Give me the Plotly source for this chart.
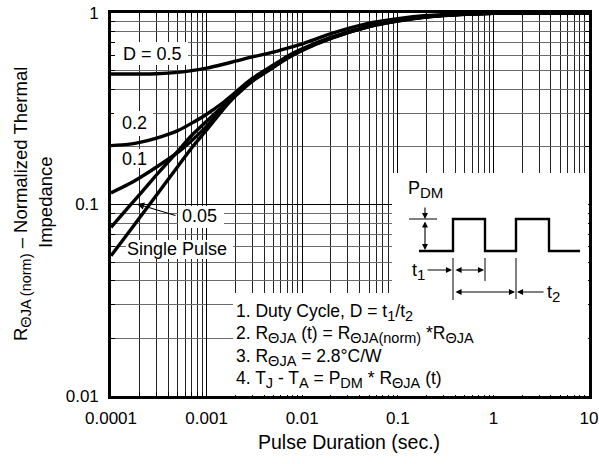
import plotly.graph_objects as go

# ---------------- data ----------------
pulse_t = [1e-4, 1.5e-4, 2e-4, 3e-4, 5e-4, 7e-4, 1e-3, 1.5e-3, 2e-3, 3e-3, 5e-3, 7e-3,
           1e-2, 2e-2, 5e-2, 0.1, 0.2, 0.5, 1, 2, 5, 10]

z_d05 = [0.48, 0.48, 0.48, 0.482, 0.49, 0.50, 0.515, 0.54, 0.56, 0.59, 0.625, 0.655,
         0.69, 0.78, 0.885, 0.935, 0.97, 0.99, 0.998, 1.0, 1.0, 1.0]
z_d02 = [0.203, 0.206, 0.211, 0.222, 0.243, 0.266, 0.296, 0.342, 0.385, 0.455, 0.535, 0.595,
         0.65, 0.745, 0.855, 0.915, 0.957, 0.987, 0.997, 1.0, 1.0, 1.0]
z_d01 = [0.115, 0.127, 0.138, 0.157, 0.187, 0.216, 0.256, 0.32, 0.375, 0.448, 0.528, 0.588,
         0.645, 0.742, 0.852, 0.912, 0.955, 0.986, 0.996, 1.0, 1.0, 1.0]
z_d005 = [0.076, 0.096, 0.113, 0.143, 0.19, 0.23, 0.272, 0.328, 0.373, 0.445, 0.525, 0.585,
          0.642, 0.74, 0.85, 0.91, 0.954, 0.985, 0.996, 1.0, 1.0, 1.0]
z_single = [0.054, 0.0705, 0.0855, 0.112, 0.158, 0.198, 0.245, 0.315, 0.368, 0.44, 0.52, 0.58,
            0.638, 0.737, 0.848, 0.908, 0.953, 0.985, 0.996, 1.0, 1.0, 1.0]

series = [("D = 0.5", z_d05), ("0.2", z_d02), ("0.1", z_d01),
          ("0.05", z_d005), ("Single Pulse", z_single)]

x_major = [1e-4, 1e-3, 1e-2, 1e-1, 1, 10]
x_major_text = ["0.0001", "0.001", "0.01", "0.1", "1", "10"]
y_major = [0.01, 0.1, 1]
y_major_text = ["0.01", "0.1", "1"]

label_text = ["D = 0.5", "0.2", "0.1", "0.05", "Single Pulse"]


def sb(s, size=14.5):
    return f"<sub><span style='font-size:{size}px'>{s}</span></sub>"


notes = ["1. Duty Cycle, D = t" + sb("1") + "/t" + sb("2"),
         "2. R" + sb("ΘJA") + " (t) = R" + sb("ΘJA(norm)") + " *R" + sb("ΘJA"),
         "3. R" + sb("ΘJA") + " = 2.8°C/W",
         "4. T" + sb("J") + " - T" + sb("A") + " = P" + sb("DM") + " * R" + sb("ΘJA") + " (t)"]

# ---------------- layout geometry ----------------
W, H = 599, 464
L, R, T, B = 111, 10, 13, 68
PW, PH = W - L - R, H - T - B
FONT = "Liberation Sans, Arial, sans-serif"


def px(xp):
    return (xp - L) / PW


def py(yp):
    return (T + PH - yp) / PH


x_minor = [m * 10 ** e for e in range(-4, 1) for m in range(2, 10)]
y_minor = [m * 10 ** e for e in range(-2, 0) for m in range(2, 10)]

fig = go.Figure()
for name, vals in series:
    fig.add_trace(go.Scatter(x=pulse_t, y=vals, mode="lines", name=name,
                             line=dict(color="black", width=3.4, shape="spline", smoothing=0.6),
                             showlegend=False, hoverinfo="skip"))

shapes = []


def white_box(x0, y0, x1, y1):
    shapes.append(dict(type="rect", xref="paper", yref="paper",
                       x0=px(x0), x1=px(x1), y0=py(y1), y1=py(y0),
                       fillcolor="white", line=dict(width=0), layer="above"))


# boxes that hide the grid
white_box(115, 42, 188, 65)      # D = 0.5
white_box(114, 111, 153, 136)    # 0.2
white_box(114, 149, 150, 168)    # 0.1
white_box(178, 206, 224, 228)    # 0.05
white_box(126, 240, 233, 259)    # Single Pulse
white_box(392, 173, 588, 395)    # waveform inset
white_box(233, 293, 392, 395)    # notes


def seg(x0, y0, x1, y1, w=1.0):
    shapes.append(dict(type="line", xref="paper", yref="paper",
                       x0=px(x0), y0=py(y0), x1=px(x1), y1=py(y1),
                       line=dict(color="black", width=w), layer="above"))


# pulse waveform
wave = [(419, 251), (453, 251), (453, 219), (485, 219), (485, 251), (516, 251),
        (516, 219), (549, 219), (549, 251), (580, 251)]
path = "M " + " L ".join(f"{px(a):.5f},{py(b):.5f}" for a, b in wave)
shapes.append(dict(type="path", xref="paper", yref="paper", path=path,
                   line=dict(color="black", width=2.4), layer="above"))
seg(409, 219, 437, 219, 1.0)
seg(453, 258, 453, 300, 1.0)
seg(485, 258, 485, 281, 1.0)
seg(516, 258, 516, 299, 1.0)

ann = []


def arrow(xh, yh, dx, dy, both=False):
    ann.append(dict(xref="paper", yref="paper", x=px(xh), y=py(yh), ax=dx, ay=dy,
                    axref="pixel", ayref="pixel", text="", showarrow=True,
                    arrowhead=2, arrowsize=1.1, arrowwidth=1.1, arrowcolor="black",
                    arrowside="end+start" if both else "end", startarrowhead=2,
                    startarrowsize=1.1, standoff=0, startstandoff=0))


arrow(425, 219, 0, -13)
arrow(425, 250, 0, -30, both=True)
arrow(452, 270, -26, 0)
arrow(484, 270, -30, 0, both=True)
arrow(515, 292, -61, 0, both=True)
arrow(517, 292, 28, 0)
# 0.05 pointer
ann.append(dict(xref="paper", yref="paper", x=px(137), y=py(204), ax=40, ay=12,
                text="", showarrow=True, arrowhead=2, arrowsize=1.2, arrowwidth=1.2,
                arrowcolor="black", standoff=0))


def text(s, xp, yp, size=15.5, xanchor="left", angle=0):
    ann.append(dict(xref="paper", yref="paper", x=px(xp), y=py(yp), text=s,
                    showarrow=False, xanchor=xanchor, yanchor="middle", textangle=angle,
                    font=dict(family=FONT, size=size, color="black")))


label_pos = [(121, 53.5), (120, 123), (120, 159), (180, 216), (125, 249)]
for s, (a, b) in zip(label_text, label_pos):
    text(s, a, b, size=18)

for i, s in enumerate(notes):
    text(s, 234, 312 + i * 22.5, size=17.5)

text("P" + sb("DM", 15), 406, 189, size=18)
text("t" + sb("1", 15), 410, 271, size=18)
text("t" + sb("2", 15), 545, 293, size=18)

# axis titles
text("Pulse Duration (sec.)", 349, 442, size=19.5, xanchor="center")
text("R" + sb("ΘJA (norm)", 14.5) + " – Normalized Thermal", 22, 204, size=18.5,
     xanchor="center", angle=-90)
text("Impedance", 45, 202, size=18.5, xanchor="center", angle=-90)

axis_common = dict(type="log", showline=True, linecolor="black", linewidth=2.6,
                   mirror="allticks", ticks="inside", ticklen=5, tickcolor="black",
                   tickfont=dict(family=FONT, size=17, color="black"),
                   zeroline=False, automargin=False)

fig.update_layout(
    width=W, height=H, margin=dict(l=L, r=R, t=T, b=B),
    paper_bgcolor="white", plot_bgcolor="white",
    shapes=shapes, annotations=ann,
    xaxis=dict(range=[-4, 1], tickmode="array", tickvals=x_major, ticktext=x_major_text,
               showgrid=True, gridcolor="black", gridwidth=1.2, ticklabelstandoff=5,
               minor=dict(tickmode="array", tickvals=x_minor, showgrid=True,
                          gridcolor="#222222", gridwidth=1, ticks="inside", ticklen=4,
                          tickcolor="black"),
               **axis_common),
    yaxis=dict(range=[-2, 0], tickmode="array", tickvals=y_major, ticktext=y_major_text,
               showgrid=True, gridcolor="black", gridwidth=1.2, ticklabelstandoff=6,
               minor=dict(tickmode="array", tickvals=y_minor, showgrid=True,
                          gridcolor="#6a6a6a", gridwidth=1.2, ticks="inside", ticklen=4,
                          tickcolor="black"),
               **axis_common),
)

fig.write_html("out.html")
